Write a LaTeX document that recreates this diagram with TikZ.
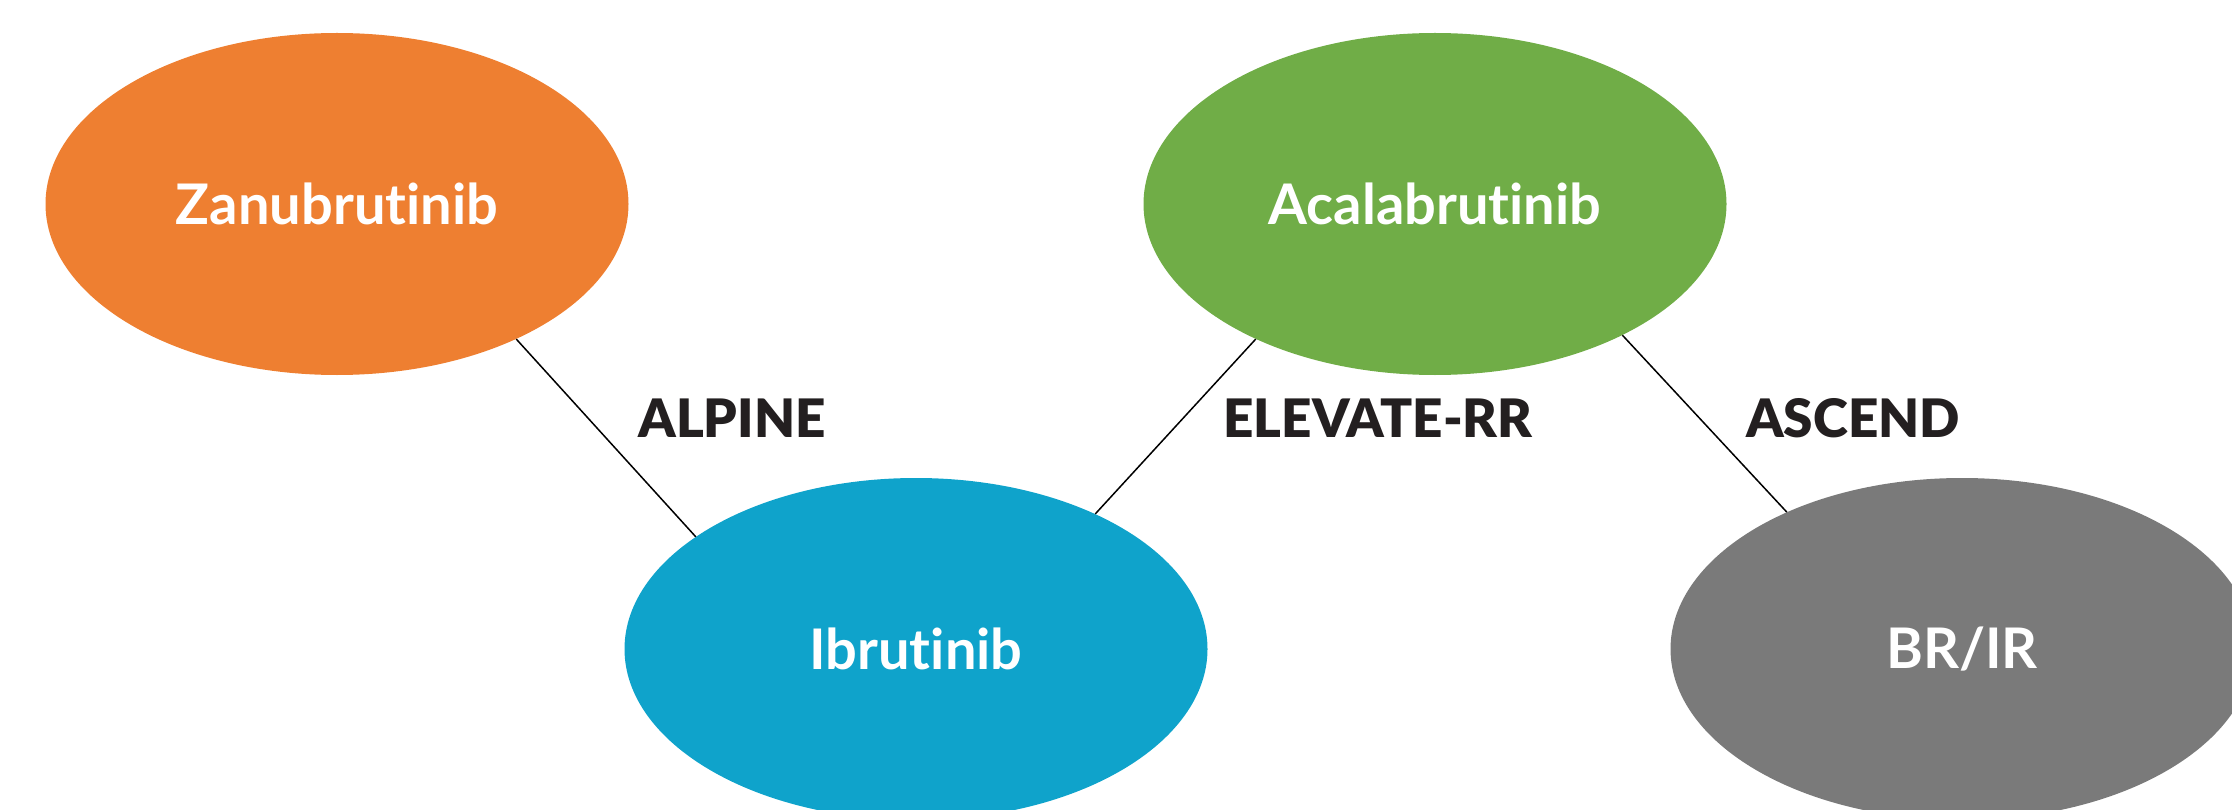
\documentclass[tikz,border=0pt]{standalone}
\usepackage{fontspec}
\setmainfont{Lato}[Ligatures={NoCommon,NoRare}]
\newfontfamily\trialfont{Lato Black}[Ligatures={NoCommon,NoRare}]
\usetikzlibrary{shapes.geometric}
\definecolor{zanuorange}{HTML}{EE7F31}
\definecolor{acalagreen}{HTML}{70AD47}
\definecolor{ibrublue}{HTML}{0FA3CB}
\definecolor{brgray}{HTML}{7A7A7A}
\definecolor{labeldark}{HTML}{231F20}
\tikzset{
  drug/.style={ellipse, minimum width=583pt, minimum height=342pt, inner sep=0pt,
    text=white, font=\fontsize{56}{60}\selectfont\bfseries},
  trial/.style={text=labeldark, inner sep=0pt, anchor=base,
    font=\fontsize{53}{58}\selectfont\trialfont},
  link/.style={draw=black, line width=1.5pt}
}
\begin{document}
\begin{tikzpicture}[x=1pt,y=-1pt]
\useasboundingbox (0,0) rectangle (2232,810);
\clip (0,0) rectangle (2232,810);
\node[drug, fill=zanuorange] (zanu) at (337,204) {Zanubrutinib};
\node[drug, fill=acalagreen] (acala) at (1435,204) {Acalabrutinib};
\node[drug, fill=ibrublue] (ibru) at (916,649) {Ibrutinib};
\node[drug, fill=brgray] (brir) at (1962,649) {BR/IR};
\draw[link] (zanu.-37) -- (ibru.153);
\draw[link] (acala.-143) -- (ibru.37);
\draw[link] (acala.-35) -- (brir.142);
\node[trial] (alpine) at (732,437) {ALPINE};
\node[trial] (elevate) at (1378,437) {ELEVATE-RR};
\node[trial] (ascend) at (1853,437) {ASCEND};
\end{tikzpicture}
\end{document}
